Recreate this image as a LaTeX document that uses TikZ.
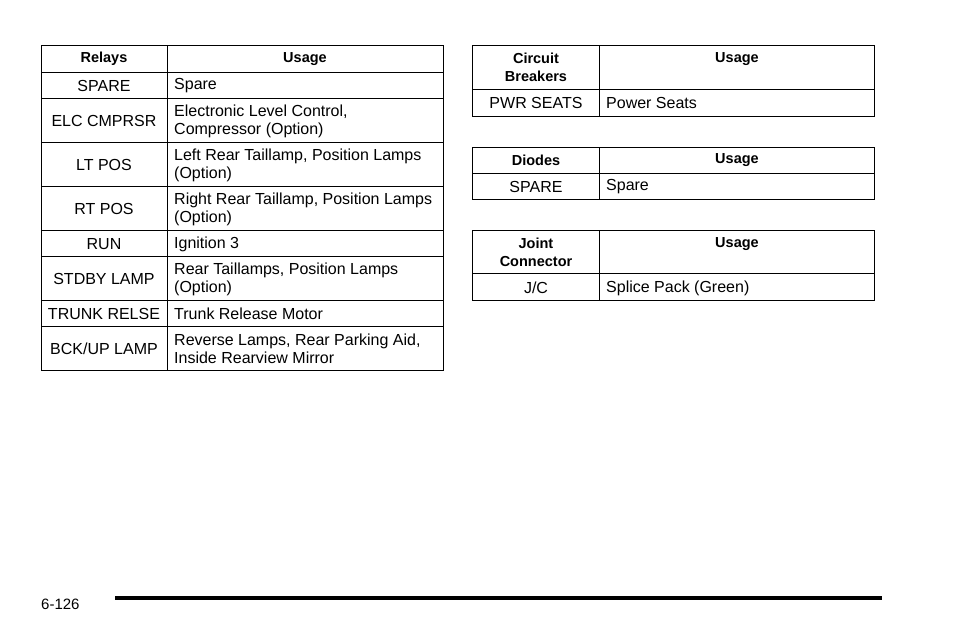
\documentclass[tikz,border=0pt]{standalone}
\usepackage{fontspec}
\setmainfont{Liberation Sans}
\begin{document}
\begin{tikzpicture}[x=1pt,y=-1pt,
  tb/.style={draw=black,line width=1pt},
  cellc/.style={inner sep=0pt,font=\fontsize{16}{18}\selectfont,align=center,yshift=-1pt},
  celll/.style={inner sep=0pt,font=\fontsize{16}{18}\selectfont,align=left,anchor=west,yshift=-1pt},
  hd/.style={inner sep=0pt,font=\fontsize{14.5}{18}\selectfont\bfseries,align=center}]
\useasboundingbox (0,0) rectangle (954,638);
% left table
\draw[tb] (41,45) rectangle (443,370);
\draw[tb] (167,45) -- (167,370);
\foreach \y in {72,98,142,186,230,256,300,326} \draw[tb] (41,\y) -- (443,\y);
\node[hd] (h1) at (104,59) {Relays};
\node[hd] (h2) at (305,59) {Usage};
\node[cellc] (a1) at (104,85) {SPARE};
\node[celll] (b1) at (174,85) {Spare};
\node[cellc] (a2) at (104,120) {ELC CMPRSR};
\node[celll] (b2) at (174,120) {Electronic Level Control,\\Compressor (Option)};
\node[cellc] (a3) at (104,164) {LT POS};
\node[celll] (b3) at (174,164) {Left Rear Taillamp, Position Lamps\\(Option)};
\node[cellc] (a4) at (104,208) {RT POS};
\node[celll] (b4) at (174,208) {Right Rear Taillamp, Position Lamps\\(Option)};
\node[cellc] (a5) at (104,243) {RUN};
\node[celll] (b5) at (174,243) {Ignition 3};
\node[cellc] (a6) at (104,278) {STDBY LAMP};
\node[celll] (b6) at (174,278) {Rear Taillamps, Position Lamps\\(Option)};
\node[cellc] (a7) at (104,313) {TRUNK RELSE};
\node[celll] (b7) at (174,313) {Trunk Release Motor};
\node[cellc] (a8) at (104,348) {BCK/UP LAMP};
\node[celll] (b8) at (174,348) {Reverse Lamps, Rear Parking Aid,\\Inside Rearview Mirror};
% right table 1
\draw[tb] (472,45) rectangle (874,116);
\draw[tb] (599,45) -- (599,116);
\draw[tb] (472,89) -- (874,89);
\node[hd] (c1) at (536,67) {Circuit\\Breakers};
\node[hd] (c2) at (737,59) {Usage};
\node[cellc] (c3) at (536,102) {PWR SEATS};
\node[celll] (c4) at (606,102) {Power Seats};
% right table 2
\draw[tb] (472,147) rectangle (874,199);
\draw[tb] (599,147) -- (599,199);
\draw[tb] (472,173) -- (874,173);
\node[hd] (d1) at (536,160) {Diodes};
\node[hd] (d2) at (737,160) {Usage};
\node[cellc] (d3) at (536,186) {SPARE};
\node[celll] (d4) at (606,186) {Spare};
% right table 3
\draw[tb] (472,230) rectangle (874,300);
\draw[tb] (599,230) -- (599,300);
\draw[tb] (472,273) -- (874,273);
\node[hd] (e1) at (536,252) {Joint\\Connector};
\node[hd] (e2) at (737,244) {Usage};
\node[cellc] (e3) at (536,287) {J/C};
\node[celll] (e4) at (606,287) {Splice Pack (Green)};
% footer
\node[celll,font=\fontsize{15}{18}\selectfont] (pg) at (41,603) {6-126};
\draw[line width=3.5pt] (115,598) -- (882,598);
\end{tikzpicture}
\end{document}
